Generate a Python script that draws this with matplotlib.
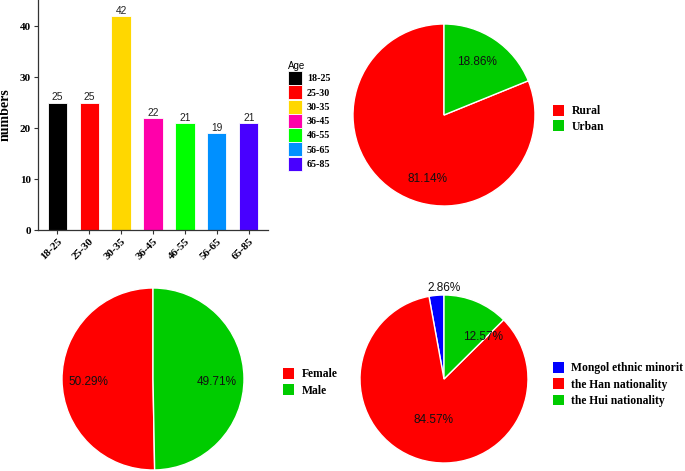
import matplotlib
matplotlib.use('Agg')
import matplotlib.pyplot as plt
from matplotlib.patches import Patch

W, H = 685, 471

# bar chart data
age_groups = ['18-25', '25-30', '30-35', '36-45', '46-55', '56-65', '65-85']
age_counts = [25, 25, 42, 22, 21, 19, 21]
age_colors = ['#000000', '#FF0000', '#FFD700', '#FF00AA', '#00FF00', '#0090FF', '#4800FF']

# pies
res_labels = ['Rural', 'Urban']
res_pct = [81.14, 18.86]
sex_labels = ['Female', 'Male']
sex_pct = [50.29, 49.71]
eth_labels = ['Mongol ethnic minorit', 'the Han nationality', 'the Hui nationality']
eth_pct = [2.86, 84.57, 12.57]

red = '#FF0000'
green = '#00CC00'
blue = '#0000FF'

serif = ['Liberation Serif', 'DejaVu Serif']
sans = ['Liberation Sans', 'DejaVu Sans']

fig = plt.figure(figsize=(W / 100, H / 100), dpi=100)


def px_axes(left, top, right, bottom):
    return fig.add_axes([left / W, 1 - bottom / H, (right - left) / W, (bottom - top) / H])


# ---- bar chart
ax = px_axes(38, 0, 268, 230)
x = range(len(age_groups))
bars = ax.bar(x, age_counts, width=0.6, color=age_colors, edgecolor='white', linewidth=0.6)
for xi, v in zip(x, age_counts):
    ax.text(xi, v + 0.1, str(v), ha='center', va='bottom', fontsize=7.4,
            family=sans, color='#222222')
ax.set_xlim(-0.6, 6.6)
ax.set_ylim(0, 45.2)
ax.set_yticks([0, 10, 20, 30, 40])
ax.set_xticks(list(x))
ax.set_xticklabels(age_groups, rotation=45, ha='right', va='top', rotation_mode='anchor')
for lab in ax.get_xticklabels() + ax.get_yticklabels():
    lab.set_family(serif)
    lab.set_fontweight('bold')
    lab.set_fontsize(8)
    lab.set_color('black')
ax.tick_params(length=3, width=0.8, color='#333333', pad=2)
ax.spines['top'].set_visible(False)
ax.spines['right'].set_visible(False)
for s in ['left', 'bottom']:
    ax.spines[s].set_color('#333333')
    ax.spines[s].set_linewidth(0.9)
ax.set_ylabel('numbers', family=serif, fontweight='bold', fontsize=10, labelpad=6)

handles = [Patch(facecolor=c, edgecolor='white', linewidth=0.6) for c in age_colors]
leg = fig.legend(handles, age_groups, title='Age', loc='upper left',
                 bbox_to_anchor=(288 / W, 1 - 61 / H), frameon=False, borderpad=0,
                 borderaxespad=0, handlelength=1.4, handleheight=1.78, labelspacing=0.02,
                 handletextpad=0.5, alignment='left',
                 prop={'family': serif, 'weight': 'bold', 'size': 7.2},
                 title_fontproperties={'family': sans, 'size': 7})


def draw_pie(cx, cy, r, vals, cols, pct_pos):
    a = px_axes(cx - r, cy - r, cx + r, cy + r)
    a.pie(vals, colors=cols, startangle=90, counterclock=True, radius=1,
          wedgeprops={'edgecolor': 'white', 'linewidth': 1})
    for v, (px, py) in zip(vals, pct_pos):
        a.text(px, py, '%.2f%%' % v, ha='center', va='center', fontsize=8.5,
               family=sans, color='#111111')
    a.set_xlim(-1, 1)
    a.set_ylim(-1, 1)
    a.set_aspect('equal')
    a.axis('off')
    return a


def pie_legend(left, top, labels, cols, spacing):
    hs = [Patch(facecolor=c, edgecolor='none') for c in cols]
    fig.legend(hs, labels, loc='upper left', bbox_to_anchor=(left / W, 1 - top / H),
               frameon=False, borderpad=0, borderaxespad=0,
               handlelength=0.92, handleheight=1.03,
               labelspacing=spacing, handletextpad=0.66,
               prop={'family': serif, 'weight': 'bold', 'size': 8.4})


draw_pie(444, 115, 91, res_pct, [red, green], [(-0.18, -0.70), (0.36, 0.58)])
pie_legend(553, 105, res_labels, [red, green], 0.25)

draw_pie(153, 379, 91, sex_pct, [red, green], [(-0.71, -0.03), (0.70, -0.03)])
pie_legend(283, 368, sex_labels, [red, green], 0.35)

draw_pie(444, 379, 84, eth_pct, [blue, red, green], [(0.0, 1.08), (-0.13, -0.49), (0.47, 0.50)])
pie_legend(553, 362, eth_labels, [blue, red, green], 0.35)

fig.savefig('out.png', dpi=100)
